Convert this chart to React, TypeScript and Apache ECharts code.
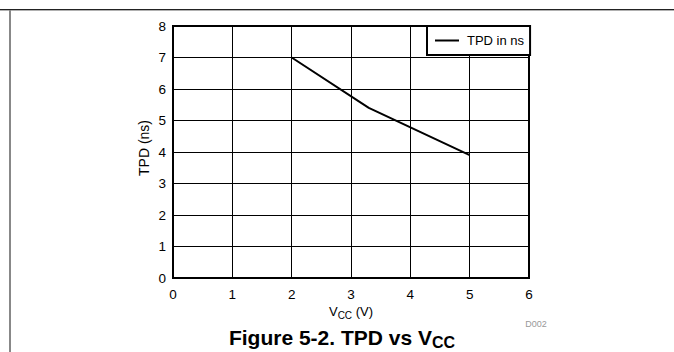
import React, { useEffect, useRef } from "react";
import * as echarts from "echarts";

const vcc: number[] = [2, 3.3, 5];
const tpd: number[] = [7, 5.4, 3.9];
const seriesName = "TPD in ns";
const xTicks = { min: 0, max: 6, interval: 1 };
const yTicks = { min: 0, max: 8, interval: 1 };

const FONT = "'Liberation Sans', Arial, sans-serif";

function measure(text: string, font: string): number {
  const c = document.createElement("canvas").getContext("2d");
  if (!c) return text.length * 7;
  c.font = font;
  return c.measureText(text).width;
}

// Builds text pieces (normal + subscript) centred at cx, with the main baseline at by.
function subText(
  parts: { t: string; sub?: boolean }[],
  cx: number,
  by: number,
  size: number,
  subSize: number,
  subDrop: number,
  weight: string
) {
  const fontOf = (s: number) => `${weight} ${s}px ${FONT}`;
  const widths = parts.map((p) => measure(p.t, fontOf(p.sub ? subSize : size)));
  const total = widths.reduce((a, b) => a + b, 0);
  let x = cx - total / 2;
  const els: any[] = [];
  parts.forEach((p, i) => {
    const s = p.sub ? subSize : size;
    const baseline = by + (p.sub ? subDrop : 0);
    els.push({
      type: "text",
      x,
      y: baseline - 0.35 * s,
      style: {
        text: p.t,
        font: fontOf(s),
        fill: "#000",
        align: "left",
        verticalAlign: "middle",
      },
    });
    x += widths[i];
  });
  return els;
}

export default function App() {
  const ref = useRef<HTMLDivElement>(null);
  useEffect(() => {
    if (!ref.current) return;
    const chart = echarts.init(ref.current, undefined, { renderer: "svg" });
    chart.setOption({
      animation: false,
      backgroundColor: "#fff",
      textStyle: { fontFamily: FONT },
      grid: {
        left: 173,
        top: 26,
        width: 356,
        height: 252,
        show: true,
        borderColor: "#000",
        borderWidth: 2,
        backgroundColor: "transparent",
      },
      legend: {
        data: [{ name: seriesName, icon: "rect" }],
        left: 427,
        top: 26,
        orient: "horizontal",
        itemWidth: 24,
        itemHeight: 2,
        itemGap: 0,
        padding: [7, 6, 7, 8],
        backgroundColor: "#fff",
        borderColor: "#000",
        borderWidth: 2,
        borderRadius: 0,
        textStyle: { fontFamily: FONT, fontSize: 13, color: "#000", padding: [0, 0, 0, 3], lineHeight: 15 },
        selectedMode: false,
      },
      xAxis: {
        type: "value",
        min: xTicks.min,
        max: xTicks.max,
        interval: xTicks.interval,
        axisLine: { show: true, lineStyle: { color: "#000", width: 2 } },
        axisTick: { show: false },
        axisLabel: { color: "#000", fontSize: 13.5, margin: 9, fontFamily: FONT },
        splitLine: { show: true, lineStyle: { color: "#000", width: 1 } },
      },
      yAxis: {
        type: "value",
        min: yTicks.min,
        max: yTicks.max,
        interval: yTicks.interval,
        axisLine: { show: true, lineStyle: { color: "#000", width: 2 } },
        axisTick: { show: false },
        axisLabel: { color: "#000", fontSize: 13.5, margin: 7, fontFamily: FONT },
        splitLine: { show: true, lineStyle: { color: "#000", width: 1 } },
      },
      series: [
        {
          name: seriesName,
          type: "line",
          data: vcc.map((v, i) => [v, tpd[i]]),
          showSymbol: false,
          symbol: "none",
          lineStyle: { color: "#000", width: 2 },
          itemStyle: { color: "#000" },
        },
      ],
      graphic: [
        { type: "rect", shape: { x: 0, y: 9, width: 674, height: 1 }, style: { fill: "#222" } },
        { type: "rect", shape: { x: 0, y: 10, width: 674, height: 1 }, style: { fill: "#b0b0b0" } },
        { type: "rect", shape: { x: 9, y: 10, width: 2, height: 342 }, style: { fill: "#888" } },
        {
          type: "text",
          x: 144,
          y: 148,
          rotation: Math.PI / 2,
          style: {
            text: "TPD (ns)",
            font: `14px ${FONT}`,
            fill: "#000",
            align: "center",
            verticalAlign: "middle",
          },
        },
        ...subText([{ t: "V" }, { t: "CC", sub: true }, { t: " (V)" }], 351, 316, 13, 10, 2.5, "normal"),
        {
          type: "text",
          x: 536,
          y: 324,
          style: {
            text: "D002",
            font: `9px ${FONT}`,
            fill: "#999",
            align: "center",
            verticalAlign: "middle",
          },
        },
        ...subText([{ t: "Figure 5-2. TPD vs V" }, { t: "CC", sub: true }], 342, 345, 21, 16, 3, "bold"),
      ],
    });
    return () => chart.dispose();
  }, []);
  return (
    <div
      ref={ref}
      style={{ position: "fixed", left: 0, top: 0, width: 674, height: 352 }}
    />
  );
}
